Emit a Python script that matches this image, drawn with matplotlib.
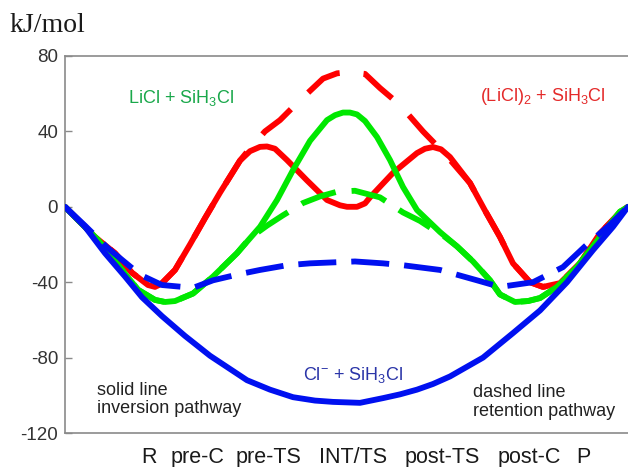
import matplotlib
matplotlib.use("Agg")
import matplotlib.pyplot as plt

plt.rcParams['font.family'] = ['Liberation Sans', 'DejaVu Sans']
plt.rcParams['axes.unicode_minus'] = False

# ---- data (reaction coordinate 0..100, energy kJ/mol) ----
blue_inv_x = [0, 3.55, 7.10, 10.66, 13.68, 17.23, 21.31, 25.75, 32.33, 36.41, 40.50, 44.40,
              47.60, 52.40, 56.48, 59.50, 62.52, 65.36, 68.38, 74.25, 79.57, 84.37, 89.17,
              93.78, 97.34, 100]
blue_inv_y = [0, -10.6, -24.6, -37, -48, -58, -68.5, -79, -92, -97, -101, -102.8,
              -103.5, -104, -101.5, -99.5, -97, -94, -90, -80, -67, -55, -40,
              -23, -10.6, 0]

blue_ret_x = [0, 3.55, 7.64, 13.32, 17.23, 22.74, 26.29, 30.55, 34.64, 39.43, 43.52, 51.51,
              56.48, 60.04, 66.61, 73.18, 77.26, 83.13, 88.45, 92.36, 96.80, 100]
blue_ret_y = [0, -10, -22, -36, -41.5, -43, -39, -36, -33.5, -31, -30, -29,
              -30, -31, -33.5, -39, -42.5, -40, -32, -21, -9.5, 0]

red_inv_x = [0, 2.66, 5.33, 8.88, 11.90, 14.74, 15.99, 17.23, 19.54, 22.20, 24.87, 27.53,
             31.08, 32.86, 34.64, 35.88, 37.30, 39.43, 42.98, 46.54, 48.84, 50.09, 51.87,
             53.29, 54.17, 58.26, 62.52, 63.94, 65.36, 66.79, 68.38, 71.94, 74.60, 77.26,
             79.57, 82.59, 84.90, 87.92, 91.47, 95.03, 98.58, 100]
red_inv_y = [0, -8, -16, -24.6, -35, -41.5, -42.5, -40.5, -33.5, -20, -6, 7.5,
             24.5, 29.5, 31.8, 32, 30.8, 24.8, 14, 3.6, 0.8, 0, 0,
             1.8, 5, 18, 28.5, 30.8, 31.7, 30.5, 26.4, 12.6, -2, -16,
             -30, -40, -42.5, -40.5, -30, -14, -3, 0]

red_ret_x = [0, 2.66, 5.33, 8.88, 11.90, 14.74, 15.99, 17.23, 19.54, 22.20, 24.87, 27.53,
             31.08, 32.86, 35.52, 38.19, 41.21, 45.83, 48.31, 50.62, 53.29, 55.95, 59.50,
             63.59, 67.50, 71.94, 74.60, 77.26, 79.57, 82.59, 84.90, 87.92, 91.47, 95.03,
             98.58, 100]
red_ret_y = [0, -8, -16, -24.6, -35, -41.5, -42.5, -40.5, -33.5, -20, -6, 7.5,
             24.5, 31, 40, 46, 55, 68, 70.8, 71.5, 70.5, 63, 54,
             40, 28, 12.6, -2, -16, -30, -40, -42.5, -40.5, -30, -14,
             -3, 0]

green_inv_x = [0, 2.66, 5.86, 10.12, 12.97, 15.99, 17.76, 19.54, 22.74, 26.29, 30.55, 34.64,
               37.66, 40.50, 43.52, 46.54, 47.96, 49.38, 50.62, 51.87, 53.29, 55.42, 57.73,
               60.04, 62.52, 66.61, 69.63, 72.47, 75.49, 77.26, 79.93, 82.24, 84.37, 87.39,
               90.94, 95.03, 98.58, 100]
green_inv_y = [0, -8, -17.5, -33.5, -44, -49.4, -50.5, -50, -46, -37, -24.6, -10.6,
               3.6, 19.5, 35, 46, 48.6, 50, 50, 49, 45.5, 37, 24.8,
               10.5, -1.7, -13.4, -21, -29, -39, -46.5, -50.5, -50, -48.4, -42.5,
               -32, -16, -2.6, 0]

green_ret_x = [0, 2.66, 5.86, 10.12, 12.97, 15.99, 17.76, 19.54, 22.74, 26.29, 30.55, 32.86,
               35.88, 38.72, 42.27, 45.29, 48.31, 51.51, 55.95, 60.04, 63.06, 65.36, 67.50,
               69.63, 72.47, 75.49, 77.26, 79.93, 82.24, 84.37, 87.39, 90.94, 95.03, 98.58,
               100]
green_ret_y = [0, -8, -17.5, -33.5, -44, -49.4, -50.5, -50, -46, -37, -24.6, -16.5,
               -10, -4.5, 2, 5.5, 8, 8.5, 5, -3, -7.5, -12, -16,
               -21, -29, -39, -46.5, -50.5, -50, -48.4, -42.5, -32, -16, -2.6,
               0]

stage_labels = ['R', 'pre-C', 'pre-TS', 'INT/TS', 'post-TS', 'post-C', 'P']
stage_pos = [14.9, 23.6, 36.1, 51.2, 67.0, 82.4, 92.0]

yticks = [-120, -80, -40, 0, 40, 80]
ytick_labels = ['-120', '-80', '-40', '0', '40', '80']

# ---- figure ----
fig = plt.figure(figsize=(6.28, 4.67), dpi=100)
ax = fig.add_axes([65 / 628, 34 / 467, 563 / 628, 377 / 467])

RED = '#ff0000'
GREEN = '#00e800'
BLUE = '#0010f0'
LW = 4.2

def dash(on_px, off_px):
    on_pt = on_px / 1.389 / LW
    off_pt = off_px / 1.389 / LW
    return (0, (on_pt, off_pt))

common = dict(lw=LW, solid_joinstyle='round', dash_joinstyle='round')
ax.plot(red_ret_x, red_ret_y, color=RED, ls=dash(38, 24), zorder=2, **common)
ax.plot(red_inv_x, red_inv_y, color=RED, zorder=2, solid_capstyle='round', **common)
ax.plot(green_ret_x, green_ret_y, color=GREEN, ls=dash(36, 16), zorder=3, **common)
ax.plot(green_inv_x, green_inv_y, color=GREEN, zorder=3, solid_capstyle='round', **common)
ax.plot(blue_ret_x, blue_ret_y, color=BLUE, ls=dash(38, 15), zorder=4, **common)
ax.plot(blue_inv_x, blue_inv_y, color=BLUE, zorder=4, solid_capstyle='round', **common)

ax.set_xlim(0, 100)
ax.set_ylim(-120, 80)

for s in ['left', 'top', 'bottom']:
    ax.spines[s].set_color('#8a8a8a')
    ax.spines[s].set_linewidth(1.2)
ax.spines['right'].set_visible(False)

ax.set_yticks(yticks)
ax.set_yticklabels(ytick_labels)
ax.tick_params(axis='y', direction='in', length=5, width=1, color='#8a8a8a',
               labelsize=13.5, labelcolor='#333333', pad=5)
ax.set_xticks(stage_pos)
ax.set_xticklabels(stage_labels)
ax.tick_params(axis='x', length=0, labelsize=15.5, labelcolor='#1a1a1a', pad=10)

# annotations
ax.text(11.2, 57.8, r'LiCl + SiH$_\mathregular{3}$Cl', color='#1aa84b', fontsize=13,
        ha='left', va='center')
ax.text(73.7, 58.4, r'(LiCl)$_\mathregular{2}$ + SiH$_\mathregular{3}$Cl', color='#e42a2a',
        fontsize=13, ha='left', va='center')
ax.text(42.3, -89.1, r'Cl$^\mathregular{-}$ + SiH$_\mathregular{3}$Cl', color='#2b35a8',
        fontsize=13, ha='left', va='center')
ax.text(5.7, -102.4, 'solid line\ninversion pathway', color='#222222', fontsize=13,
        ha='left', va='center', linespacing=1.1)
ax.text(72.5, -103.5, 'dashed line\nretention pathway', color='#222222', fontsize=13,
        ha='left', va='center', linespacing=1.1)

fig.text(10 / 628, 1 - 32 / 467, 'kJ/mol', fontsize=20, family='Liberation Serif',
         color='#1a1a1a', ha='left', va='baseline')

fig.savefig('out.png', dpi=100)
